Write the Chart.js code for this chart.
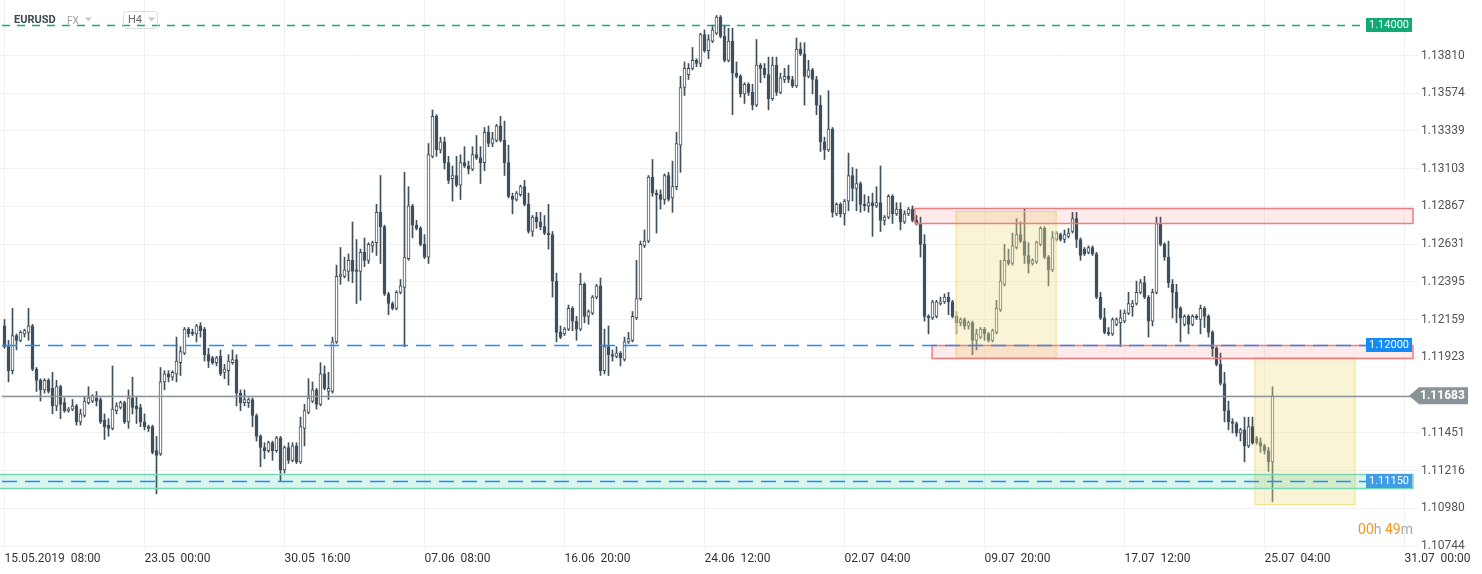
<!DOCTYPE html>
<html>
<head>
<meta charset="utf-8">
<script src="https://cdn.jsdelivr.net/npm/chart.js@4.4.0/dist/chart.umd.min.js"></script>
<style>
  html, body { margin: 0; padding: 0; background: #fff; }
  canvas { display: block; }
</style>
</head>
<body>
<canvas id="canvas" width="1482" height="574"></canvas>
<script>
// EURUSD H4 candles, 15.05.2019 08:00 .. 25.07.2019 12:00
var opens = [
1.1212,1.1199,1.1184,1.1206,1.1203,1.1207,1.1208,1.1212,1.1185,1.1178,
1.1172,1.1178,1.1173,1.1162,1.1174,1.1164,1.1159,1.1160,1.1162,1.1152,
1.1156,1.1164,1.1165,1.1167,1.1166,1.1153,1.1150,1.1148,1.1159,1.1161,
1.1164,1.1152,1.1167,1.1162,1.1161,1.1152,1.1149,1.1149,1.1134,1.1132,
1.1177,1.1182,1.1180,1.1182,1.1189,1.1195,1.1210,1.1208,1.1207,1.1212,
1.1210,1.1194,1.1192,1.1189,1.1193,1.1183,1.1184,1.1189,1.1191,1.1170,
1.1164,1.1164,1.1166,1.1156,1.1143,1.1136,1.1134,1.1139,1.1134,1.1142,
1.1122,1.1136,1.1128,1.1137,1.1127,1.1148,1.1158,1.1165,1.1172,1.1163,
1.1182,1.1171,1.1171,1.1202,1.1243,1.1243,1.1246,1.1253,1.1247,1.1246,
1.1258,1.1253,1.1262,1.1264,1.1283,1.1274,1.1232,1.1226,1.1223,1.1233,
1.1236,1.1254,1.1287,1.1275,1.1273,1.1263,1.1255,1.1318,1.1343,1.1322,
1.1327,1.1314,1.1304,1.1306,1.1300,1.1314,1.1312,1.1310,1.1319,1.1317,
1.1314,1.1333,1.1326,1.1328,1.1337,1.1328,1.1314,1.1293,1.1291,1.1294,
1.1299,1.1288,1.1271,1.1280,1.1277,1.1274,1.1270,1.1269,1.1240,1.1208,
1.1207,1.1210,1.1223,1.1215,1.1210,1.1238,1.1218,1.1220,1.1230,1.1237,
1.1184,1.1199,1.1194,1.1193,1.1195,1.1191,1.1202,1.1203,1.1217,1.1229,
1.1262,1.1265,1.1305,1.1295,1.1294,1.1291,1.1306,1.1292,1.1299,1.1325,
1.1361,1.1369,1.1373,1.1378,1.1376,1.1394,1.1384,1.1390,1.1395,1.1405,
1.1393,1.1378,1.1390,1.1370,1.1368,1.1357,1.1363,1.1358,1.1350,1.1375,
1.1373,1.1369,1.1354,1.1375,1.1358,1.1366,1.1368,1.1366,1.1362,1.1385,
1.1382,1.1368,1.1372,1.1366,1.1350,1.1327,1.1322,1.1335,1.1282,1.1288,
1.1282,1.1290,1.1306,1.1298,1.1301,1.1288,1.1287,1.1289,1.1287,1.1289,
1.1278,1.1280,1.1293,1.1282,1.1285,1.1277,1.1282,1.1285,1.1278,1.1276,
1.1263,1.1218,1.1217,1.1218,1.1226,1.1227,1.1230,1.1227,1.1218,1.1214,
1.1216,1.1212,1.1214,1.1203,1.1205,1.1210,1.1207,1.1203,1.1208,1.1222,
1.1238,1.1253,1.1251,1.1261,1.1269,1.1265,1.1256,1.1251,1.1252,1.1263,
1.1273,1.1255,1.1247,1.1266,1.1269,1.1266,1.1268,1.1271,1.1279,1.1266,
1.1260,1.1258,1.1261,1.1257,1.1230,1.1217,1.1208,1.1207,1.1213,1.1214,
1.1215,1.1220,1.1224,1.1226,1.1233,1.1239,1.1230,1.1215,1.1233,1.1276,
1.1263,1.1255,1.1238,1.1233,1.1223,1.1213,1.1218,1.1213,1.1218,1.1216,
1.1223,1.1218,1.1208,1.1198,1.1188,1.1176,1.1159,1.1152,1.1151,1.1145,
1.1147,1.1137,1.1149,1.1142,1.1139,1.1137,1.1134,1.1127
];
var highs = [
1.1216,1.1203,1.1223,1.1207,1.1209,1.1210,1.1223,1.1213,1.1186,1.1179,
1.1179,1.1179,1.1183,1.1178,1.1175,1.1167,1.1161,1.1166,1.1163,1.1160,
1.1168,1.1174,1.1169,1.1171,1.1167,1.1157,1.1154,1.1187,1.1164,1.1165,
1.1165,1.1172,1.1180,1.1168,1.1163,1.1157,1.1150,1.1150,1.1143,1.1186,
1.1184,1.1184,1.1184,1.1205,1.1199,1.1211,1.1211,1.1210,1.1213,1.1214,
1.1211,1.1198,1.1193,1.1193,1.1197,1.1188,1.1194,1.1197,1.1194,1.1172,
1.1172,1.1167,1.1167,1.1157,1.1144,1.1139,1.1140,1.1140,1.1143,1.1143,
1.1137,1.1139,1.1139,1.1139,1.1155,1.1163,1.1179,1.1177,1.1173,1.1189,
1.1187,1.1183,1.1205,1.1250,1.1261,1.1255,1.1257,1.1277,1.1266,1.1260,
1.1267,1.1264,1.1265,1.1288,1.1306,1.1275,1.1233,1.1227,1.1234,1.1241,
1.1308,1.1299,1.1288,1.1278,1.1274,1.1269,1.1326,1.1347,1.1344,1.1330,
1.1330,1.1318,1.1312,1.1318,1.1319,1.1324,1.1315,1.1324,1.1331,1.1324,
1.1336,1.1337,1.1333,1.1338,1.1343,1.1340,1.1325,1.1295,1.1296,1.1300,
1.1303,1.1295,1.1281,1.1283,1.1283,1.1281,1.1288,1.1271,1.1245,1.1212,
1.1211,1.1225,1.1224,1.1218,1.1245,1.1239,1.1222,1.1231,1.1238,1.1242,
1.1210,1.1212,1.1197,1.1199,1.1196,1.1205,1.1208,1.1221,1.1253,1.1265,
1.1272,1.1306,1.1316,1.1297,1.1297,1.1307,1.1308,1.1315,1.1333,1.1368,
1.1377,1.1376,1.1386,1.1379,1.1395,1.1397,1.1394,1.1400,1.1406,1.1406,
1.1400,1.1398,1.1398,1.1377,1.1369,1.1364,1.1364,1.1363,1.1391,1.1376,
1.1376,1.1380,1.1380,1.1380,1.1370,1.1373,1.1375,1.1368,1.1392,1.1389,
1.1389,1.1378,1.1373,1.1368,1.1356,1.1330,1.1359,1.1336,1.1289,1.1289,
1.1291,1.1320,1.1311,1.1310,1.1302,1.1294,1.1293,1.1295,1.1299,1.1312,
1.1281,1.1294,1.1294,1.1289,1.1289,1.1284,1.1286,1.1287,1.1281,1.1280,
1.1269,1.1219,1.1228,1.1228,1.1230,1.1232,1.1233,1.1228,1.1221,1.1217,
1.1217,1.1215,1.1215,1.1210,1.1211,1.1211,1.1208,1.1210,1.1228,1.1253,
1.1263,1.1260,1.1270,1.1279,1.1277,1.1285,1.1264,1.1254,1.1265,1.1274,
1.1274,1.1256,1.1271,1.1271,1.1270,1.1272,1.1273,1.1283,1.1283,1.1267,
1.1261,1.1262,1.1262,1.1258,1.1233,1.1223,1.1211,1.1217,1.1217,1.1222,
1.1222,1.1233,1.1228,1.1240,1.1241,1.1243,1.1231,1.1235,1.1280,1.1280,
1.1264,1.1265,1.1241,1.1238,1.1224,1.1219,1.1219,1.1219,1.1219,1.1225,
1.1224,1.1219,1.1209,1.1199,1.1195,1.1183,1.1165,1.1154,1.1152,1.1148,
1.1155,1.1155,1.1155,1.1143,1.1142,1.1138,1.1136,1.1174
];
var lows = [
1.1198,1.1177,1.1182,1.1197,1.1202,1.1205,1.1203,1.1184,1.1171,1.1165,
1.1170,1.1170,1.1157,1.1159,1.1154,1.1158,1.1158,1.1159,1.1150,1.1150,
1.1155,1.1163,1.1164,1.1162,1.1151,1.1141,1.1143,1.1147,1.1157,1.1160,
1.1151,1.1148,1.1157,1.1151,1.1149,1.1147,1.1146,1.1132,1.1107,1.1131,
1.1172,1.1177,1.1178,1.1177,1.1181,1.1194,1.1205,1.1206,1.1202,1.1205,
1.1190,1.1186,1.1188,1.1187,1.1181,1.1179,1.1175,1.1188,1.1162,1.1159,
1.1162,1.1161,1.1149,1.1140,1.1124,1.1129,1.1133,1.1128,1.1133,1.1115,
1.1120,1.1126,1.1127,1.1126,1.1126,1.1137,1.1157,1.1164,1.1160,1.1162,
1.1172,1.1166,1.1170,1.1201,1.1238,1.1242,1.1240,1.1239,1.1226,1.1228,
1.1249,1.1251,1.1258,1.1256,1.1251,1.1231,1.1219,1.1222,1.1222,1.1232,
1.1199,1.1253,1.1267,1.1272,1.1262,1.1254,1.1251,1.1317,1.1318,1.1320,
1.1310,1.1301,1.1290,1.1299,1.1291,1.1311,1.1307,1.1309,1.1316,1.1301,
1.1309,1.1324,1.1324,1.1327,1.1327,1.1306,1.1292,1.1282,1.1290,1.1293,
1.1287,1.1270,1.1268,1.1273,1.1272,1.1269,1.1260,1.1230,1.1202,1.1204,
1.1206,1.1209,1.1209,1.1203,1.1209,1.1214,1.1213,1.1219,1.1229,1.1181,
1.1182,1.1181,1.1190,1.1192,1.1187,1.1190,1.1201,1.1202,1.1216,1.1228,
1.1261,1.1264,1.1293,1.1270,1.1285,1.1288,1.1290,1.1283,1.1297,1.1308,
1.1356,1.1366,1.1372,1.1374,1.1374,1.1383,1.1379,1.1389,1.1394,1.1392,
1.1377,1.1377,1.1344,1.1367,1.1355,1.1351,1.1356,1.1347,1.1349,1.1364,
1.1367,1.1347,1.1353,1.1356,1.1357,1.1364,1.1364,1.1361,1.1361,1.1381,
1.1350,1.1367,1.1357,1.1344,1.1321,1.1316,1.1321,1.1280,1.1281,1.1280,
1.1275,1.1284,1.1290,1.1284,1.1283,1.1284,1.1283,1.1268,1.1286,1.1271,
1.1275,1.1279,1.1276,1.1281,1.1272,1.1276,1.1281,1.1277,1.1275,1.1255,
1.1215,1.1207,1.1216,1.1217,1.1225,1.1226,1.1219,1.1217,1.1207,1.1212,
1.1210,1.1210,1.1194,1.1197,1.1204,1.1203,1.1202,1.1202,1.1207,1.1221,
1.1237,1.1250,1.1250,1.1260,1.1264,1.1251,1.1245,1.1250,1.1251,1.1262,
1.1254,1.1237,1.1246,1.1265,1.1265,1.1264,1.1267,1.1270,1.1261,1.1253,
1.1256,1.1257,1.1256,1.1229,1.1216,1.1207,1.1206,1.1206,1.1212,1.1199,
1.1214,1.1219,1.1218,1.1225,1.1232,1.1229,1.1205,1.1212,1.1232,1.1262,
1.1253,1.1236,1.1217,1.1214,1.1202,1.1212,1.1207,1.1212,1.1216,1.1207,
1.1211,1.1205,1.1193,1.1187,1.1175,1.1152,1.1147,1.1145,1.1143,1.1140,
1.1127,1.1136,1.1138,1.1138,1.1133,1.1132,1.1121,1.1102
];
var closes = [
1.1199,1.1184,1.1206,1.1203,1.1208,1.1209,1.1212,1.1185,1.1178,1.1172,
1.1178,1.1171,1.1162,1.1174,1.1163,1.1159,1.1160,1.1162,1.1152,1.1157,
1.1165,1.1167,1.1168,1.1165,1.1152,1.1149,1.1148,1.1160,1.1162,1.1164,
1.1152,1.1167,1.1161,1.1160,1.1152,1.1149,1.1148,1.1133,1.1131,1.1177,
1.1182,1.1180,1.1183,1.1190,1.1196,1.1210,1.1207,1.1207,1.1212,1.1209,
1.1194,1.1190,1.1189,1.1192,1.1182,1.1185,1.1190,1.1191,1.1170,1.1164,
1.1166,1.1166,1.1156,1.1143,1.1136,1.1134,1.1139,1.1134,1.1142,1.1122,
1.1136,1.1128,1.1137,1.1127,1.1149,1.1159,1.1167,1.1172,1.1163,1.1182,
1.1173,1.1173,1.1202,1.1243,1.1244,1.1247,1.1253,1.1246,1.1246,1.1258,
1.1253,1.1263,1.1264,1.1283,1.1274,1.1232,1.1226,1.1223,1.1233,1.1237,
1.1255,1.1287,1.1275,1.1273,1.1263,1.1255,1.1319,1.1343,1.1322,1.1327,
1.1314,1.1303,1.1306,1.1300,1.1314,1.1312,1.1310,1.1319,1.1317,1.1314,
1.1333,1.1326,1.1329,1.1337,1.1328,1.1314,1.1293,1.1291,1.1295,1.1299,
1.1288,1.1271,1.1280,1.1277,1.1274,1.1270,1.1269,1.1240,1.1208,1.1205,
1.1210,1.1223,1.1215,1.1210,1.1238,1.1218,1.1221,1.1230,1.1237,1.1184,
1.1199,1.1194,1.1193,1.1195,1.1192,1.1202,1.1204,1.1218,1.1229,1.1263,
1.1265,1.1305,1.1295,1.1294,1.1291,1.1306,1.1291,1.1299,1.1326,1.1361,
1.1373,1.1373,1.1378,1.1376,1.1394,1.1384,1.1391,1.1397,1.1405,1.1393,
1.1378,1.1390,1.1370,1.1368,1.1357,1.1363,1.1358,1.1350,1.1375,1.1373,
1.1369,1.1354,1.1375,1.1358,1.1367,1.1368,1.1366,1.1362,1.1385,1.1382,
1.1368,1.1372,1.1366,1.1350,1.1327,1.1322,1.1335,1.1283,1.1288,1.1282,
1.1290,1.1306,1.1298,1.1301,1.1288,1.1287,1.1289,1.1287,1.1289,1.1278,
1.1280,1.1293,1.1282,1.1285,1.1277,1.1282,1.1285,1.1278,1.1276,1.1263,
1.1218,1.1217,1.1227,1.1227,1.1227,1.1230,1.1227,1.1218,1.1214,1.1216,
1.1212,1.1214,1.1203,1.1207,1.1210,1.1207,1.1203,1.1209,1.1223,1.1240,
1.1253,1.1251,1.1262,1.1269,1.1265,1.1256,1.1251,1.1253,1.1264,1.1273,
1.1255,1.1247,1.1267,1.1270,1.1266,1.1269,1.1270,1.1279,1.1266,1.1256,
1.1257,1.1261,1.1257,1.1230,1.1217,1.1208,1.1207,1.1216,1.1216,1.1217,
1.1220,1.1226,1.1226,1.1233,1.1239,1.1230,1.1215,1.1233,1.1276,1.1263,
1.1255,1.1239,1.1233,1.1223,1.1217,1.1218,1.1213,1.1218,1.1217,1.1223,
1.1218,1.1208,1.1198,1.1188,1.1176,1.1159,1.1152,1.1151,1.1145,1.1147,
1.1137,1.1149,1.1139,1.1139,1.1137,1.1134,1.1127,1.11683
];

// axis ticks (x in candle index, 35 H4 candles between labels)
var xTickIndex = [0, 35, 70, 105, 140, 175, 210, 245, 280, 315, 350];
var xTickLabels = ['15.05.2019  08:00', '23.05  00:00', '30.05  16:00', '07.06  08:00', '16.06  20:00',
  '24.06  12:00', '02.07  04:00', '09.07  20:00', '17.07  12:00', '25.07  04:00', '31.07  00:00'];
var yTicks = [1.13810, 1.13574, 1.13339, 1.13103, 1.12867, 1.12631, 1.12395, 1.12159,
  1.11923, 1.11687, 1.11451, 1.11216, 1.10980, 1.10744];

// drawn levels and zones (prices, candle indexes)
var targetLevel = 1.14000;
var breakLevel = 1.12000;
var supportLevel = 1.11150;
var lastPrice = 1.11683;
var supportBand = [1.11104, 1.11193];
var upperZone = [227.6, 1.12763, 1.12857];
var lowerZone = [231.9, 1.11921, 1.12000];
var boxOne = [237.9, 262.9, 1.11927, 1.12840];
var boxTwo = [312.6, 337.6, 1.11010, 1.11923];
var timerText = ['00', 'h ', '49', 'm'];

var dark = '#3f505c';
var idx = closes.map(function (c, i) { return i; });
var wicks = idx.map(function (i) { return { x: i, y: [lows[i], highs[i]] }; });
var bodies = idx.map(function (i) { return { x: i, y: [opens[i], closes[i]] }; });

var overlay = {
  id: 'overlay',
  afterDatasetsDraw: function (chart) {
    var ctx = chart.ctx, a = chart.chartArea, x = chart.scales.x, y = chart.scales.y;
    ctx.save();
    function box(x0, x1, p0, p1, fill, stroke, lw) {
      var top = Math.round(y.getPixelForValue(p1)) + 0.5, bot = Math.round(y.getPixelForValue(p0)) + 0.5;
      ctx.fillStyle = fill;
      ctx.fillRect(x0, top, x1 - x0, bot - top);
      ctx.strokeStyle = stroke;
      ctx.lineWidth = lw;
      ctx.strokeRect(x0, top, x1 - x0, bot - top);
    }
    // yellow boxes
    box(x.getPixelForValue(boxOne[0]), x.getPixelForValue(boxOne[1]), boxOne[2], boxOne[3], 'rgba(239,225,144,0.37)', '#f1df8c', 1);
    box(x.getPixelForValue(boxTwo[0]), x.getPixelForValue(boxTwo[1]), boxTwo[2], boxTwo[3], 'rgba(239,225,144,0.37)', '#f1df8c', 1);
    // red zones
    box(x.getPixelForValue(upperZone[0]), a.right, upperZone[1], upperZone[2], 'rgba(240,60,60,0.1)', '#ef7f7f', 1.5);
    box(x.getPixelForValue(lowerZone[0]), a.right, lowerZone[1], lowerZone[2], 'rgba(240,60,60,0.1)', '#ef7f7f', 1.5);
    // support band
    box(a.left - 2, a.right, supportBand[0], supportBand[1], 'rgba(0,190,140,0.15)', '#79d6b3', 1.5);

    function hline(p, color, dash, x1) {
      var py = Math.round(y.getPixelForValue(p)) + 0.5;
      ctx.beginPath();
      ctx.setLineDash(dash);
      ctx.strokeStyle = color;
      ctx.lineWidth = 1.5;
      ctx.moveTo(a.left + 2, py);
      ctx.lineTo(x1, py);
      ctx.stroke();
    }
    hline(lastPrice, '#8c959b', [], a.right);
    hline(targetLevel, '#0fae78', [8, 7], a.right - 47);
    hline(breakLevel, '#1890ff', [15, 8], a.right - 47);
    hline(supportLevel, '#1890ff', [15, 8], a.right - 47);
    ctx.setLineDash([]);
    ctx.restore();
  },
  afterDraw: function (chart) {
    var ctx = chart.ctx, a = chart.chartArea, y = chart.scales.y;
    ctx.save();
    function tag(p, color) {
      var py = Math.round(y.getPixelForValue(p));
      ctx.fillStyle = color;
      ctx.fillRect(a.right - 47, py - 7, 46, 14);
      ctx.fillStyle = '#fff';
      ctx.font = '11px Roboto';
      ctx.textAlign = 'center';
      ctx.textBaseline = 'middle';
      ctx.fillText(p.toFixed(5), a.right - 24, py + 0.5);
    }
    tag(targetLevel, '#12a974');
    tag(breakLevel, '#148af5');
    tag(supportLevel, '#3d9de6');

    // current price marker
    var cy = y.getPixelForValue(lastPrice);
    ctx.fillStyle = '#8a9398';
    ctx.beginPath();
    ctx.moveTo(a.right - 4, cy);
    ctx.lineTo(a.right + 6, cy - 8.5);
    ctx.lineTo(a.right + 55, cy - 8.5);
    ctx.lineTo(a.right + 55, cy + 8.5);
    ctx.lineTo(a.right + 6, cy + 8.5);
    ctx.closePath();
    ctx.fill();
    ctx.fillStyle = '#fff';
    ctx.font = 'bold 12px Roboto';
    ctx.textAlign = 'left';
    ctx.textBaseline = 'middle';
    ctx.fillText(lastPrice.toFixed(5), a.right + 7, cy + 0.5);

    // time to candle close
    ctx.font = '14px Roboto';
    ctx.textBaseline = 'alphabetic';
    var tx = a.right;
    for (var k = timerText.length - 1; k >= 0; k--) {
      var w = ctx.measureText(timerText[k]).width;
      tx -= w;
      ctx.fillStyle = (k % 2 === 0) ? '#f7941d' : '#a8a8a8';
      ctx.fillText(timerText[k], tx, 534);
    }

    // header
    ctx.textBaseline = 'middle';
    ctx.fillStyle = '#3c4852';
    ctx.font = 'bold 11px Roboto';
    ctx.fillText('EURUSD', 14, 20);
    ctx.fillStyle = '#a0a0a0';
    ctx.font = '10px Roboto';
    ctx.fillText('FX', 67, 21);
    ctx.fillStyle = '#666';
    ctx.font = '11px Roboto';
    ctx.fillText('H4', 128, 20);
    ctx.fillStyle = '#c8c8c8';
    [85, 148].forEach(function (tx0) {
      ctx.beginPath();
      ctx.moveTo(tx0, 17.5);
      ctx.lineTo(tx0 + 7, 17.5);
      ctx.lineTo(tx0 + 3.5, 21.5);
      ctx.closePath();
      ctx.fill();
    });
    ctx.strokeStyle = '#dddddd';
    ctx.lineWidth = 1;
    ctx.beginPath();
    ctx.roundRect(123.5, 11.5, 34, 17, 3);
    ctx.stroke();
    ctx.restore();
  }
};

var ctx = document.getElementById('canvas');
var myChart = new Chart(ctx, {
  type: 'bar',
  data: {
    datasets: [{
      data: wicks,
      backgroundColor: dark,
      barThickness: 1,
      grouped: false,
      order: 2
    }, {
      data: bodies,
      backgroundColor: bodies.map(function (d) { return d.y[1] > d.y[0] ? '#ffffff' : dark; }),
      borderColor: dark,
      borderWidth: 1,
      borderSkipped: false,
      barThickness: 3,
      grouped: false,
      order: 1
    }]
  },
  options: {
    responsive: false,
    animation: false,
    events: [],
    layout: { padding: 0 },
    plugins: { legend: { display: false }, tooltip: { enabled: false } },
    scales: {
      x: {
        type: 'linear',
        min: -1.125,
        max: 352.125,
        offset: false,
        grid: { color: '#f1f1f1', drawTicks: false, offset: false },
        border: { display: false },
        afterBuildTicks: function (s) { s.ticks = xTickIndex.map(function (v) { return { value: v }; }); },
        afterFit: function (s) { s.height = 26; s.paddingLeft = 0; s.paddingRight = 0; },
        ticks: {
          autoSkip: false, maxRotation: 0, align: 'start', padding: 4,
          color: '#333', font: { family: 'Roboto', size: 12 },
          callback: function (v, i) { return xTickLabels[i]; }
        }
      },
      y: {
        position: 'right',
        min: 1.107319,
        max: 1.141569,
        grid: { color: '#f1f1f1', tickLength: 6 },
        border: { display: false },
        afterBuildTicks: function (s) { s.ticks = yTicks.map(function (v) { return { value: v }; }); },
        afterFit: function (s) { s.width = 69; s.paddingTop = 0; s.paddingBottom = 0; },
        ticks: {
          padding: 2, color: '#555', font: { family: 'Roboto', size: 12 },
          callback: function (v) { return v.toFixed(5); }
        }
      }
    }
  },
  plugins: [overlay]
});
</script>
</body>
</html>
